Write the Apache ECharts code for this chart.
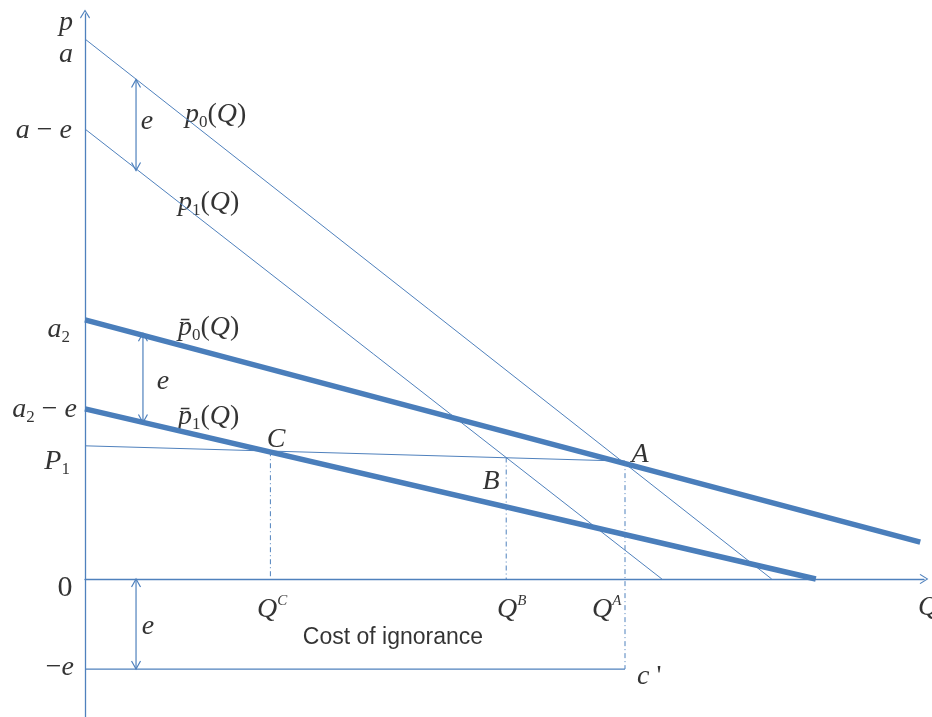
<!DOCTYPE html>
<html><head><meta charset="utf-8">
<script src="https://cdn.jsdelivr.net/npm/echarts@6/dist/echarts.min.js"></script>
<style>html,body{margin:0;padding:0;background:#fff}#c{width:932px;height:717px}</style>
</head><body><div id="c"></div>
<script>
// ---- data (Q, p) ----
const demandP0 = [[0, 60], [76.3, 0]];
const demandP1 = [[0, 50], [64.1, 0]];
const demandP0bar = [[0, 28.8], [92.8, 4.1]];
const demandP1bar = [[0, 18.9], [81.2, 0]];
const priceLineP1 = [[0, 14.8], [60, 13.1]];
const dropQC = [[20.6, 14.2], [20.6, 0]];
const dropQB = [[46.8, 13.5], [46.8, 0]];
const dropQA = [[60, 13.1], [60, -10]];
const costLine = [[0, -10], [60, -10]];
// [Q, pFrom, pTo]
const gapArrows = [[5.67, 55.5, 45.4], [6.44, 27.3, 17.4], [5.67, 0, -10]];
// [Q, p, text, align]
const labels = [
  [-2.11, 61.78, '{i|p}', 'center'],
  [-2.11, 58.23, '{i|a}', 'center'],
  [-1.44, 49.78, '{i|a}{r| − }{i|e}', 'right'],
  [6.89, 50.78, '{i|e}', 'center'],
  [11.11, 51.56, '{i|p}{sub|0}{r|(}{i|Q}{r|)}', 'left'],
  [10.33, 41.78, '{i|p}{sub|1}{r|(}{i|Q}{r|)}', 'left'],
  [-1.67, 27.67, '{i|a}{sub|2}', 'right'],
  [10.33, 27.89, '{i|p\u0304}{sub|0}{r|(}{i|Q}{r|)}', 'left'],
  [8.67, 21.89, '{i|e}', 'center'],
  [-0.89, 18.78, '{i|a}{sub|2}{r| − }{i|e}', 'right'],
  [10.33, 18.0, '{i|p\u0304}{sub|1}{r|(}{i|Q}{r|)}', 'left'],
  [21.22, 15.45, '{i|C}', 'center'],
  [-1.67, 13.0, '{i|P}{sub|1}', 'right'],
  [45.11, 10.78, '{i|B}', 'center'],
  [61.67, 13.78, '{i|A}', 'center'],
  [-2.22, -1.0, '{z|0}', 'center'],
  [19.11, -3.44, '{i|Q}{sup|C}', 'left'],
  [45.78, -3.44, '{i|Q}{sup|B}', 'left'],
  [56.33, -3.44, '{i|Q}{sup|A}', 'left'],
  [92.56, -3.22, '{i|Q}', 'left'],
  [7.0, -5.33, '{i|e}', 'center'],
  [34.22, -6.5, '{s|Cost of ignorance}', 'center'],
  [-1.22, -9.88, '{r|−}{i|e}', 'right'],
  [61.33, -10.88, '{i|c}{r| \'}', 'left']
];

const thin = '#4f81bd';
const thick = '#4a7ebb';
const serif = 'Liberation Serif';
const rich = {
  i: {fontFamily: serif, fontStyle: 'italic', fontSize: 28, lineHeight: 32, color: '#000'},
  r: {fontFamily: serif, fontSize: 28, lineHeight: 32, color: '#000'},
  z: {fontFamily: serif, fontSize: 30, lineHeight: 32, color: '#000'},
  sub: {fontFamily: serif, fontSize: 17, lineHeight: 32, verticalAlign: 'bottom', color: '#000'},
  sup: {fontFamily: serif, fontStyle: 'italic', fontSize: 15, lineHeight: 32, verticalAlign: 'top', color: '#000'},
  s: {fontFamily: 'Liberation Sans', fontSize: 23, lineHeight: 28, color: '#000'}
};

const chevron = 'path://M50,0L100,80L92,88L50,18L8,88L0,80Z';

function lineSeries(data, color, width, type) {
  return {type: 'line', data: data, symbol: 'none', silent: true, clip: false,
    lineStyle: {color: color, width: width, type: type || 'solid'}};
}

const chart = echarts.init(document.getElementById('c'), null, {renderer: 'canvas'});
chart.setOption({
  backgroundColor: '#fff',
  animation: false,
  grid: {left: 85, right: 8, top: 14, bottom: 0},
  xAxis: {type: 'value', min: 0, max: 93.22, splitLine: {show: false},
    axisTick: {show: false}, axisLabel: {show: false},
    axisLine: {onZero: true, lineStyle: {color: thin, width: 1.3},
      symbol: ['none', chevron], symbolSize: [10, 9]}},
  yAxis: {type: 'value', min: -15.33, max: 62.78, splitLine: {show: false},
    axisTick: {show: false}, axisLabel: {show: false},
    axisLine: {onZero: true, lineStyle: {color: thin, width: 1.3},
      symbol: ['none', chevron], symbolSize: [10, 9]}},
  series: [
    lineSeries(demandP0, thin, 1),
    lineSeries(demandP1, thin, 1),
    lineSeries(priceLineP1, thin, 1),
    lineSeries(demandP0bar, thick, 5.5),
    lineSeries(demandP1bar, thick, 5.5),
    lineSeries(dropQC, thin, 1, [5, 3, 1, 3]),
    lineSeries(dropQB, thin, 1, [5, 3, 1, 3]),
    lineSeries(dropQA, thin, 1, [5, 3, 1, 3]),
    lineSeries(costLine, thin, 1.3),
    {
      type: 'custom', data: gapArrows, silent: true, clip: false,
      encode: {x: 0, y: [1, 2]},
      renderItem: function (params, api) {
        const a = api.coord([api.value(0), api.value(1)]);
        const b = api.coord([api.value(0), api.value(2)]);
        const st = {stroke: thin, lineWidth: 1.2, fill: null};
        return {type: 'group', children: [
          {type: 'line', shape: {x1: a[0], y1: a[1], x2: b[0], y2: b[1]}, style: st},
          {type: 'polyline', shape: {points: [[a[0] - 4.5, a[1] + 8], [a[0], a[1]], [a[0] + 4.5, a[1] + 8]]}, style: st},
          {type: 'polyline', shape: {points: [[b[0] - 4.5, b[1] - 8], [b[0], b[1]], [b[0] + 4.5, b[1] - 8]]}, style: st}
        ]};
      }
    },
    {
      type: 'scatter', symbolSize: 0, silent: true, clip: false,
      data: labels.map(function (l) {
        return {value: [l[0], l[1]], label: {show: true, position: 'inside',
          align: l[3], verticalAlign: 'middle', formatter: l[2], rich: rich}};
      })
    }
  ]
});
</script></body></html>
